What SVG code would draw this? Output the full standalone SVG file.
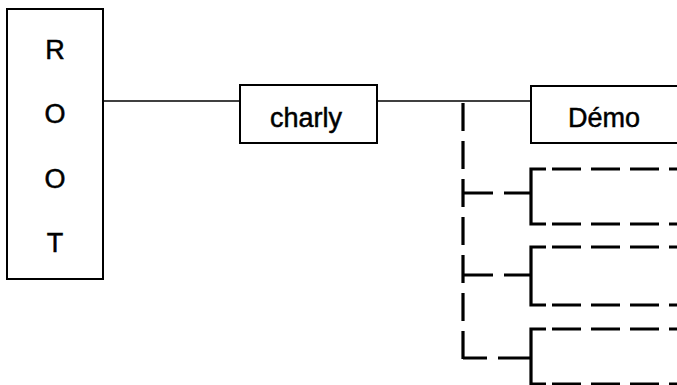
<svg xmlns="http://www.w3.org/2000/svg" width="677" height="385" viewBox="0 0 677 385">
<style>
.box{fill:#fff;stroke:#000;stroke-width:2}
.t{font-family:"Liberation Sans",Arial,sans-serif;font-size:27px;fill:#000;stroke:#000;stroke-width:0.5;text-anchor:middle}
.thin{stroke:#000;stroke-width:1.5;fill:none}
.dash{stroke:#000;stroke-width:3.2;fill:none}
.dsh{stroke:#000;stroke-width:3.2;fill:none;stroke-dasharray:29 10}
</style>
<rect width="677" height="385" fill="#fff"/>
<g id="connectors">
<path class="thin" d="M103,101 H240"/>
<path class="thin" d="M377,101 H531"/>
<path class="dsh" d="M463,103 V359" style="stroke-dasharray:28 10"/>
<path class="dash" d="M463,193 H493 M504,193 H531"/>
<path class="dash" d="M463,275 H493 M504,275 H531"/>
<path class="dash" d="M463,358 H487 M498,358 H531"/>
</g>
<g id="root">
<rect class="box" x="7" y="9" width="96" height="270"/>
<text class="t" x="55" y="59">R</text>
<text class="t" x="55" y="123">O</text>
<text class="t" x="55" y="188">O</text>
<text class="t" x="55" y="252">T</text>
</g>
<g id="charly">
<rect class="box" x="240" y="85" width="137" height="58"/>
<text class="t" x="306" y="127">charly</text>
</g>
<g id="demo">
<rect class="box" x="531" y="86" width="160" height="57"/>
<text class="t" x="604" y="127">Démo</text>
</g>
<g id="box1">
<path class="dash" d="M546,169 H531 V224 H546"/>
<path class="dsh" d="M552,169 H677 M552,224 H677"/>
</g>
<g id="box2">
<path class="dash" d="M546,247 H531 V305 H546"/>
<path class="dsh" d="M552,247 H677 M552,305 H677"/>
</g>
<g id="box3">
<path class="dash" d="M546,329 H531 V384 H546"/>
<path class="dsh" d="M552,329 H677 M552,384 H677"/>
</g>
</svg>
